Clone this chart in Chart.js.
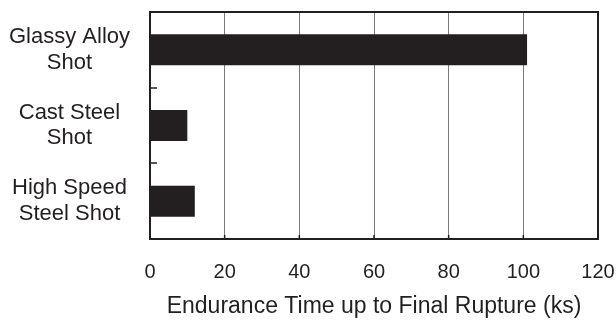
<!DOCTYPE html>
<html>
<head>
<meta charset="utf-8">
<script src="https://cdn.jsdelivr.net/npm/chart.js@4"></script>
<style>
  html, body { margin: 0; padding: 0; background: #fff; }
  #wrap { width: 616px; height: 320px; }
</style>
</head>
<body>
<div id="wrap"><canvas id="rupture"></canvas></div>
<script>
const shots = [["Glassy Alloy", "Shot"], ["Cast Steel", "Shot"], ["High Speed", "Steel Shot"]];
const enduranceKs = [101, 10, 12];
const xMin = 0, xMax = 120, xStep = 20;
const axisTitle = "Endurance Time up to Final Rupture (ks)";

const ink = '#231f20';
const face = "'Liberation Sans', Arial, sans-serif";

// box round the plot and the little inward ticks
const frame = {
    id: 'frame',
    afterDatasetsDraw(chart) {
        const { ctx, chartArea: a, scales: { x, y } } = chart;
        ctx.save();
        ctx.strokeStyle = ink;
        ctx.lineWidth = 2;
        ctx.strokeRect(a.left, a.top, a.right - a.left, a.bottom - a.top);
        ctx.lineWidth = 1.5;
        ctx.beginPath();
        for (let i = 0; i < y.ticks.length - 1; i++) {
            const py = Math.round((y.getPixelForTick(i) + y.getPixelForTick(i + 1)) / 2);
            ctx.moveTo(a.left, py);
            ctx.lineTo(a.left + 7, py);
        }
        x.ticks.forEach((t, i) => {
            const px = x.getPixelForTick(i);
            ctx.moveTo(px, a.bottom);
            ctx.lineTo(px, a.bottom - 4);
        });
        ctx.stroke();
        ctx.restore();
    }
};

new Chart(document.getElementById('rupture'), {
    type: 'bar',
    data: {
        labels: shots,
        datasets: [{
            data: enduranceKs,
            backgroundColor: ink,
            borderWidth: 0,
            categoryPercentage: 1,
            barPercentage: 0.41
        }]
    },
    plugins: [frame],
    options: {
        indexAxis: 'y',
        responsive: true,
        maintainAspectRatio: false,
        animation: false,
        layout: { padding: { top: 12, right: 18, left: 0, bottom: 0 } },
        plugins: {
            legend: { display: false },
            tooltip: { enabled: false }
        },
        scales: {
            x: {
                min: xMin,
                max: xMax,
                border: { display: false },
                grid: { color: '#7a7a7a', lineWidth: 1, drawTicks: false },
                ticks: {
                    stepSize: xStep,
                    padding: 21,
                    color: ink,
                    font: { family: face, size: 20 }
                },
                title: {
                    display: true,
                    text: axisTitle,
                    color: ink,
                    font: { family: face, size: 23 },
                    padding: { top: 0, bottom: 0 }
                },
                afterFit: (scale) => {
                    scale.height = 81;
                    scale.paddingLeft = 0;
                    scale.paddingRight = 0;
                }
            },
            y: {
                border: { display: false },
                grid: { display: false, drawTicks: false },
                ticks: {
                    crossAlign: 'center',
                    padding: 20,
                    color: ink,
                    font: { family: face, size: 22, lineHeight: 1.16 }
                },
                afterFit: (scale) => {
                    scale.width = 150;
                    scale.paddingTop = 0;
                    scale.paddingBottom = 0;
                }
            }
        }
    }
});
</script>
</body>
</html>
